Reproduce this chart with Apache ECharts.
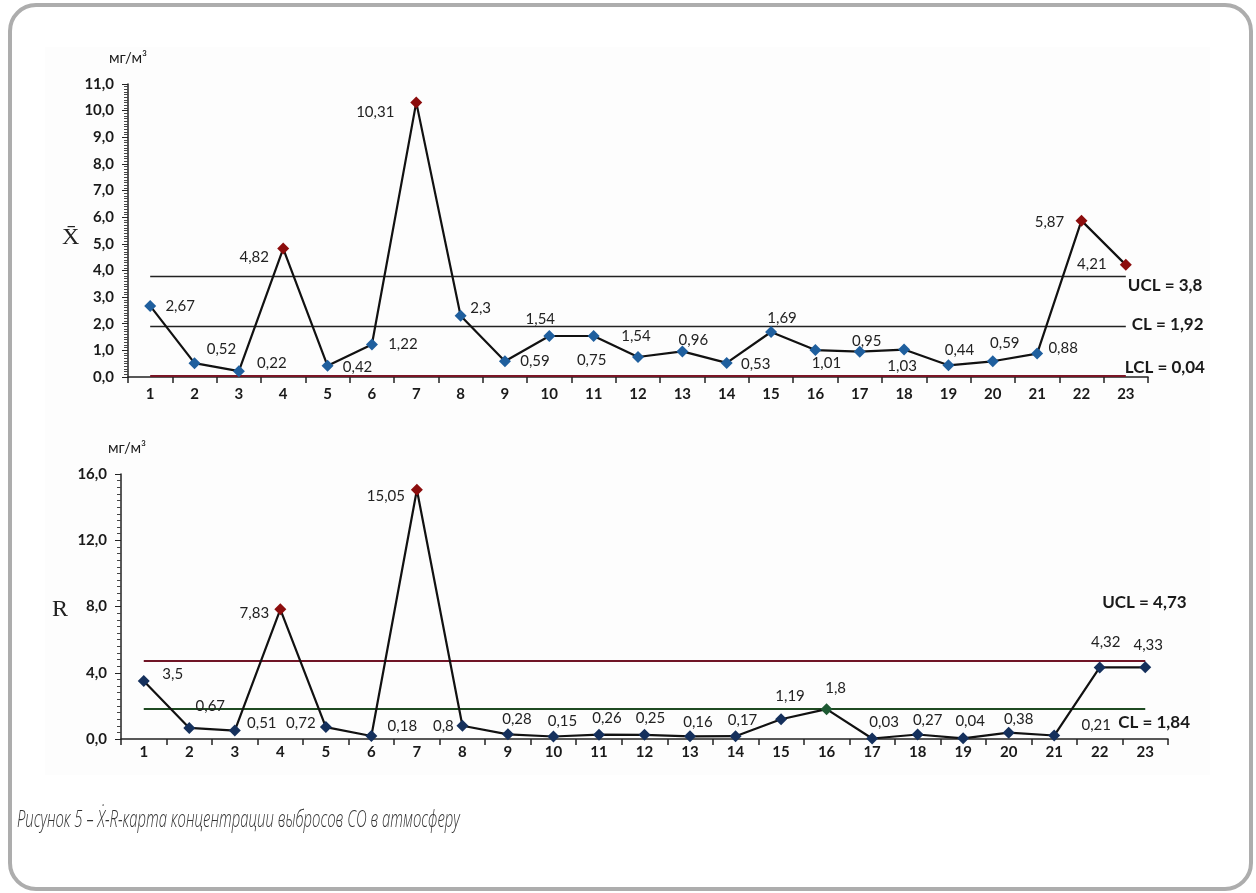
<!DOCTYPE html>
<html><head><meta charset="utf-8">
<script src="https://cdn.jsdelivr.net/npm/echarts@6/dist/echarts.min.js"></script>
<style>html,body{margin:0;padding:0;background:#fff}#c{width:1256px;height:893px}</style>
</head><body><div id="c"></div>
<script>
// ---- data ----
const categories = ['1','2','3','4','5','6','7','8','9','10','11','12','13','14','15','16','17','18','19','20','21','22','23'];
const xbarValues = [2.67,0.52,0.22,4.82,0.42,1.22,10.31,2.3,0.59,1.54,1.54,0.75,0.96,0.53,1.69,1.01,0.95,1.03,0.44,0.59,0.88,5.87,4.21];
const xbarLabels = ['2,67','0,52','0,22','4,82','0,42','1,22','10,31','2,3','0,59','1,54','0,75','1,54','0,96','0,53','1,69','1,01','0,95','1,03','0,44','0,59','0,88','5,87','4,21'];
const xbarFlags = ['n','n','n','o','n','n','o','n','n','n','n','n','n','n','n','n','n','n','n','n','n','o','o'];
const rValues = [3.5,0.67,0.51,7.83,0.72,0.18,15.05,0.8,0.28,0.15,0.26,0.25,0.16,0.17,1.19,1.8,0.03,0.27,0.04,0.38,0.21,4.32,4.33];
const rLabels = ['3,5','0,67','0,51','7,83','0,72','0,18','15,05','0,8','0,28','0,15','0,26','0,25','0,16','0,17','1,19','1,8','0,03','0,27','0,04','0,38','0,21','4,32','4,33'];
const rFlags = ['n','n','n','o','n','n','o','n','n','n','n','n','n','n','n','g','n','n','n','n','n','n','n'];
const xbarLimits = {UCL:3.8, CL:1.92, LCL:0.04};
const xbarLimitText = {UCL:'UCL = 3,8', CL:'CL = 1,92', LCL:'LCL = 0,04'};
const rLimits = {UCL:4.73, CL:1.84};
const rLimitText = {UCL:'UCL = 4,73', CL:'CL = 1,84'};
const unitText = 'мг/м³';
const captionText = 'Рисунок 5 – Ẋ-R-карта концентрации выбросов СО в атмосферу';

// ---- style (label offsets) ----
const xbarLabelOffsets = [[30,0],[27,-14],[33,-8],[-29,9],[30,1],[31,0],[-41,10],[20,-8],[30,0],[-9,-17],[-2,24],[-2,-21],[11,-11],[29,1],[11,-14],[11,13],[7,-11],[-2,17],[11,-15],[12,-18],[26,-5],[-32,2],[-34,-1]];
const rLabelOffsets = [[29,-7],[21,-22],[27,-7],[-26,4],[-25,-4],[31,-10],[-31,6],[-19,0],[9,-15],[9,-15],[8,-17],[6,-17],[8,-14],[7,-16],[9,-23],[9,-21],[12,-16],[10,-14],[7,-17],[10,-14],[42,-10],[6,-25],[3,-22]];
const topColors = {n:'#1f5f9e', o:'#8c0d0d', g:'#1e5a33'};
const botColors = {n:'#15305c', o:'#8c0d0d', g:'#1e5a33'};

const FONT = 'Lato, "Open Sans", sans-serif';
const fmt = v => v.toFixed(1).replace('.', ',');

function buildData(vals, labels, flags, offsets, colors){
  return vals.map((v,i)=>({
    value: v,
    itemStyle: {color: colors[flags[i]]},
    label: {show:true, formatter: labels[i], position:'inside', offset: offsets[i]}
  }));
}
function limitLine(y, color, width){
  return [{coord:[categories[0], y], lineStyle:{color:color, width:width, type:'solid'}}, {coord:[categories[categories.length-1], y]}];
}
function limitLabel(y, text, off){
  return {coord:[categories[categories.length-1], y], symbolSize:0,
    label:{show:true, formatter:text, position:'inside', align:'left', verticalAlign:'middle', offset:off,
      color:'#1a1a1a', fontFamily:FONT, fontWeight:'bold', fontSize:17}};
}

const chart = echarts.init(document.getElementById('c'), null, {renderer:'canvas'});
const yAxisCommon = {
  type:'value',
  axisLine:{show:true, lineStyle:{color:'#222', width:1.5}},
  axisTick:{show:true, length:6, lineStyle:{color:'#222'}},
  minorTick:{show:true, splitNumber:10, length:4, lineStyle:{color:'#444'}},
  splitLine:{show:false},
  axisLabel:{formatter:fmt, color:'#1a1a1a', fontFamily:FONT, fontWeight:'bold', fontSize:15, margin:14},
  nameLocation:'end',
  nameTextStyle:{color:'#1a1a1a', fontFamily:FONT, fontSize:15, fontWeight:'normal', align:'center'}
};
const xAxisCommon = {
  type:'category', data:categories, boundaryGap:true,
  axisLine:{show:true, lineStyle:{color:'#222', width:1.5}},
  axisTick:{show:true, interval:0, length:6, lineStyle:{color:'#222', width:1.5}},
  axisLabel:{interval:0, color:'#1a1a1a', fontFamily:FONT, fontWeight:'bold', fontSize:15},
  splitLine:{show:false}
};

const option = {
  animation:false,
  backgroundColor:'#ffffff',
  graphic:[
    {type:'rect', silent:true, z:-10, shape:{x:45, y:47, width:1165, height:728}, style:{fill:'#fdfdfd'}},
    {type:'rect', silent:true, z:-5, shape:{x:10, y:5, width:1241, height:884, r:26}, style:{fill:'none', stroke:'#adadad', lineWidth:4}},
    {type:'text', left:62, top:226, style:{text:'X̄', font:'24px "Liberation Serif", "DejaVu Serif", serif', fill:'#222'}},
    {type:'text', left:52, top:598, style:{text:'R', font:'24px "Liberation Serif", "DejaVu Serif", serif', fill:'#222'}},
    {type:'text', x:17, y:808, scaleX:0.62, style:{text:captionText, font:'italic 300 24px "Open Sans", "DejaVu Sans Condensed", sans-serif', fill:'#333'}}
  ],
  grid:[
    {left:128, right:108, top:84, bottom:516, containLabel:false},
    {left:121, right:88, top:474, bottom:154, containLabel:false}
  ],
  xAxis:[
    Object.assign({}, xAxisCommon, {gridIndex:0, axisLabel:Object.assign({}, xAxisCommon.axisLabel, {margin:10})}),
    Object.assign({}, xAxisCommon, {gridIndex:1, axisLabel:Object.assign({}, xAxisCommon.axisLabel, {margin:6})})
  ],
  yAxis:[
    Object.assign({}, yAxisCommon, {gridIndex:0, min:0, max:11, interval:1, name:unitText, nameGap:18}),
    Object.assign({}, yAxisCommon, {gridIndex:1, min:0, max:16, interval:4, name:unitText, nameGap:18,
      nameTextStyle:Object.assign({}, yAxisCommon.nameTextStyle, {padding:[0,0,0,12]})})
  ],
  series:[
    {
      type:'line', xAxisIndex:0, yAxisIndex:0, z:5,
      data: buildData(xbarValues, xbarLabels, xbarFlags, xbarLabelOffsets, topColors),
      symbol:'diamond', symbolSize:12,
      lineStyle:{color:'#111', width:2.2},
      label:{color:'#222', fontFamily:FONT, fontSize:15},
      markLine:{silent:true, symbol:'none', label:{show:false}, z:2,
        data:[limitLine(xbarLimits.UCL,'#222',1.3), limitLine(xbarLimits.CL,'#222',1.3), limitLine(xbarLimits.LCL,'#7a1525',2)]},
      markPoint:{silent:true, symbol:'circle', symbolSize:0,
        data:[limitLabel(xbarLimits.UCL, xbarLimitText.UCL,[2,10]), limitLabel(xbarLimits.CL, xbarLimitText.CL,[6,-1]), limitLabel(xbarLimits.LCL, xbarLimitText.LCL,[-1,-8])]}
    },
    {
      type:'line', xAxisIndex:1, yAxisIndex:1, z:5,
      data: buildData(rValues, rLabels, rFlags, rLabelOffsets, botColors),
      symbol:'diamond', symbolSize:12,
      lineStyle:{color:'#111', width:2.2},
      label:{color:'#222', fontFamily:FONT, fontSize:15},
      markLine:{silent:true, symbol:'none', label:{show:false}, z:2,
        data:[limitLine(rLimits.UCL,'#701526',2.2), limitLine(rLimits.CL,'#1f4a22',2.2)]},
      markPoint:{silent:true, symbol:'circle', symbolSize:0,
        data:[limitLabel(rLimits.UCL, rLimitText.UCL,[-43,-58]), limitLabel(rLimits.CL, rLimitText.CL,[-27,14])]}
    }
  ]
};
chart.setOption(option);
</script>
</body></html>
